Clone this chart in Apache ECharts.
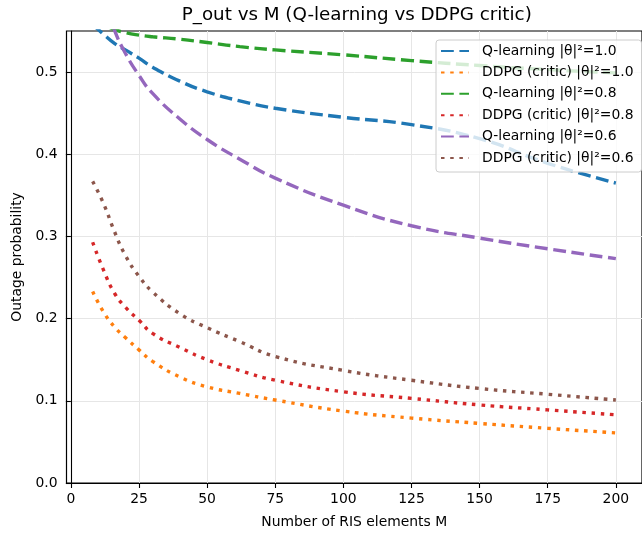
<!DOCTYPE html>
<html><head><meta charset="utf-8">
<script src="https://cdn.jsdelivr.net/npm/echarts@6/dist/echarts.min.js"></script>
<style>html,body{margin:0;padding:0;background:#fff}#c{width:642px;height:535px}</style>
</head><body><div id="c"></div>
<script>
// Number of RIS elements M
const M = [8, 12, 16, 20, 25, 30, 40, 50, 62, 75, 100, 125, 150, 175, 200];
// Outage probability per series
const qlearn10 = [0.558, 0.546, 0.535, 0.527, 0.517, 0.506, 0.489, 0.476, 0.465, 0.456, 0.445, 0.436, 0.419, 0.389, 0.365];
const ddpg10   = [0.233, 0.208, 0.190, 0.177, 0.162, 0.148, 0.129, 0.117, 0.109, 0.101, 0.0875, 0.079, 0.0725, 0.0665, 0.061];
const qlearn08 = [0.565, 0.558, 0.552, 0.548, 0.545, 0.543, 0.540, 0.536, 0.531, 0.527, 0.521, 0.514, 0.508, 0.503, 0.499];
const ddpg08   = [0.293, 0.259, 0.231, 0.214, 0.198, 0.182, 0.165, 0.150, 0.137, 0.125, 0.111, 0.103, 0.095, 0.089, 0.083];
const qlearn06 = [0.640, 0.590, 0.551, 0.523, 0.496, 0.474, 0.443, 0.418, 0.394, 0.371, 0.338, 0.313, 0.298, 0.285, 0.273];
const ddpg06   = [0.367, 0.340, 0.306, 0.277, 0.2515, 0.2325, 0.206, 0.189, 0.172, 0.154, 0.137, 0.125, 0.115, 0.108, 0.101];
const xTicks = [0, 25, 50, 75, 100, 125, 150, 175, 200];
const yTicks = [0, 0.1, 0.2, 0.3, 0.4, 0.5];
const names = ['Q-learning |θ|²=1.0', 'DDPG (critic) |θ|²=1.0', 'Q-learning |θ|²=0.8',
               'DDPG (critic) |θ|²=0.8', 'Q-learning |θ|²=0.6', 'DDPG (critic) |θ|²=0.6'];
const seriesVals = [qlearn10, ddpg10, qlearn08, ddpg08, qlearn06, ddpg06];
const colors = ['#1f77b4', '#ff7f0e', '#2ca02c', '#d62728', '#9467bd', '#8c564b'];
const titleText = 'P_out vs M (Q-learning vs DDPG critic)';

const FONT = 'DejaVu Sans';
const TITLE_SIZE = 18.3;
const dashed = [12.8, 5.6];
const dotted = [3.5, 5.7];

// centre the title over the plot area
const ctx = document.createElement('canvas').getContext('2d');
ctx.font = TITLE_SIZE + 'px "' + FONT + '"';
const titleW = ctx.measureText(titleText).width;
const plotLeft = 66.5, plotWidth = 580.5;
const titleLeft = plotLeft + plotWidth / 2 - titleW / 2;

const series = seriesVals.map((vals, i) => ({
  name: names[i],
  type: 'line',
  smooth: true,
  symbol: 'none',
  clip: true,
  data: M.map((m, j) => [m, vals[j]]),
  lineStyle: { color: colors[i], width: 3.4, type: i % 2 === 0 ? dashed : dotted, cap: 'butt' },
  itemStyle: { color: colors[i] }
}));

const chart = echarts.init(document.getElementById('c'), null, { renderer: 'canvas' });
chart.setOption({
  animation: false,
  backgroundColor: '#fff',
  title: {
    text: titleText,
    left: titleLeft, top: 6, padding: 0,
    textStyle: { fontFamily: FONT, fontSize: TITLE_SIZE, fontWeight: 'normal', color: '#000' }
  },
  grid: { left: plotLeft, top: 31, width: plotWidth, bottom: 52, show: true, borderColor: '#000', borderWidth: 1.2, containLabel: false },
  legend: {
    orient: 'vertical', left: 436, top: 40,
    itemWidth: 28, itemHeight: 14, itemGap: 7.4,
    padding: [4, 8, 7, 4],
    itemStyle: { opacity: 0 },
    backgroundColor: 'rgba(255,255,255,0.8)', borderColor: '#cccccc', borderWidth: 1, borderRadius: 3,
    textStyle: { fontFamily: FONT, fontSize: 13.9, color: '#000', padding: [0, 0, 0, 8] },
    data: names
  },
  xAxis: {
    type: 'value', min: -1.6, max: 209.6,
    name: 'Number of RIS elements M', nameLocation: 'middle', nameGap: 32,
    nameTextStyle: { fontFamily: FONT, fontSize: 13.9, color: '#000' },
    axisLine: { show: true, lineStyle: { color: '#000', width: 1.1 } },
    axisTick: { show: true, length: 5, lineStyle: { color: '#000', width: 1.1 }, customValues: xTicks },
    axisLabel: { fontFamily: FONT, fontSize: 13.9, color: '#000', margin: 9, customValues: xTicks },
    splitLine: { show: true, lineStyle: { color: '#e6e6e6', width: 1 } }
  },
  yAxis: {
    type: 'value', min: 0, max: 0.55,
    name: 'Outage probability', nameLocation: 'middle', nameGap: 42,
    nameTextStyle: { fontFamily: FONT, fontSize: 13.9, color: '#000' },
    axisLine: { show: true, lineStyle: { color: '#000', width: 1.1 } },
    axisTick: { show: true, length: 5, lineStyle: { color: '#000', width: 1.1 }, customValues: yTicks },
    axisLabel: { fontFamily: FONT, fontSize: 13.9, color: '#000', margin: 9, customValues: yTicks,
                 formatter: v => v.toFixed(1) },
    splitLine: { show: true, lineStyle: { color: '#e6e6e6', width: 1 } }
  },
  series: series
});
</script></body></html>
